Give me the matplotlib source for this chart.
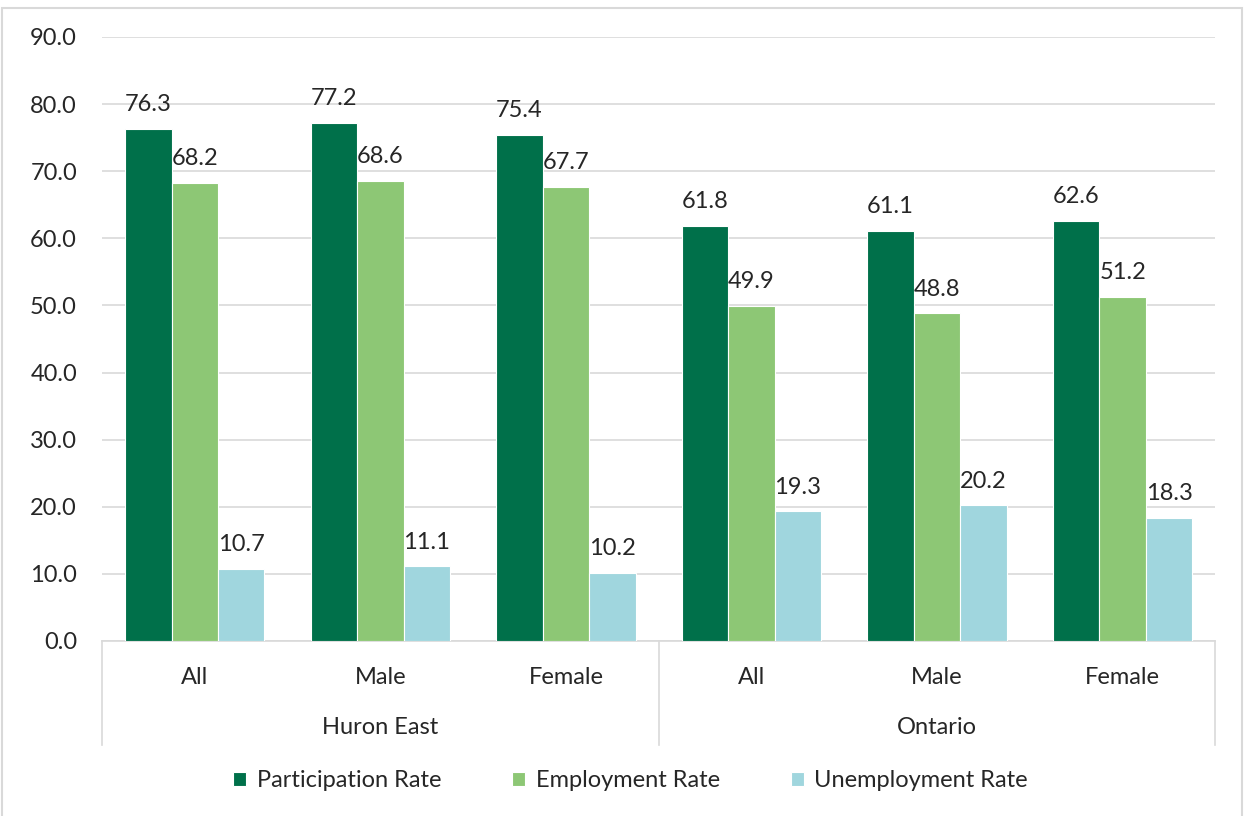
import numpy as np
import matplotlib.pyplot as plt
from matplotlib.patches import Rectangle
import matplotlib.transforms as mtransforms

plt.rcParams['font.family'] = ['Lato', 'DejaVu Sans']

categories = ['All', 'Male', 'Female', 'All', 'Male', 'Female']
regions = ['Huron East', 'Ontario']
series = ['Participation Rate', 'Employment Rate', 'Unemployment Rate']
participation = [76.3, 77.2, 75.4, 61.8, 61.1, 62.6]
employment = [68.2, 68.6, 67.7, 49.9, 48.8, 51.2]
unemployment = [10.7, 11.1, 10.2, 19.3, 20.2, 18.3]
colors = ['#00704A', '#8DC775', '#A0D6DE']
text_color = '#262626'
fs = 17

fig = plt.figure(figsize=(12.44, 8.16), dpi=100)
ax = fig.add_axes([0.082, 0.2145, 0.895, 0.7402])

x = np.arange(len(categories))
width = 0.25
for i, (vals, name) in enumerate(zip([participation, employment, unemployment], series)):
    pos = x + (i - 1) * width
    ax.bar(pos, vals, width, color=colors[i], edgecolor='white', linewidth=0.8,
           label=name, zorder=3)
    for p, v in zip(pos, vals):
        ax.annotate(f'{v:.1f}', (p, v), xytext=(0, 10), textcoords='offset points',
                    ha='center', va='bottom', fontsize=fs, color=text_color)

ax.set_xlim(-0.5, 5.5)
ax.set_ylim(0, 90)
ax.set_yticks(np.arange(0, 91, 10))
ax.set_yticklabels([f'{t:.1f}' for t in np.arange(0, 91, 10)])
ax.yaxis.grid(True, color='#D9D9D9', linewidth=1.2, zorder=0)
ax.set_axisbelow(True)
ax.tick_params(axis='y', length=0, pad=18, labelsize=fs, labelcolor=text_color)
ax.set_xticks(x)
ax.set_xticklabels(categories)
ax.tick_params(axis='x', length=0, pad=19, labelsize=fs, labelcolor=text_color)

for s in ['top', 'right', 'left']:
    ax.spines[s].set_visible(False)
ax.spines['bottom'].set_color('#D9D9D9')
ax.spines['bottom'].set_linewidth(1.2)

trans = mtransforms.blended_transform_factory(ax.transData, ax.transAxes)
for xs in [-0.5, 2.5, 5.5]:
    ax.plot([xs, xs], [0, -0.172], transform=trans, color='#D9D9D9',
            linewidth=1.2, clip_on=False)
for j, r in enumerate(regions):
    ax.text(1 + 3 * j, -0.143, r, transform=trans, ha='center', va='center',
            fontsize=fs, color=text_color)

ax.legend(loc='center', bbox_to_anchor=(0.507, 0.043), bbox_transform=fig.transFigure,
          ncol=3, frameon=False, fontsize=fs, handlelength=0.55, handleheight=0.55,
          handletextpad=0.45, columnspacing=3.0, labelcolor=text_color)

fig.patches.append(Rectangle((0.002, -0.01), 0.996, 1.0, transform=fig.transFigure,
                             fill=False, edgecolor='#D9D9D9', linewidth=1.5))

fig.savefig('out.png', dpi=100)
